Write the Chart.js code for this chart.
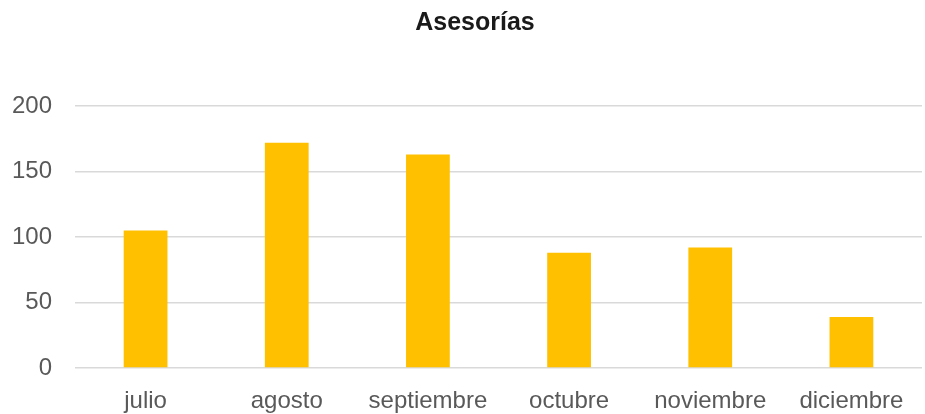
<!DOCTYPE html>
<html>
<head>
<meta charset="utf-8">
<script src="https://cdn.jsdelivr.net/npm/chart.js@4.4.1/dist/chart.umd.min.js"></script>
<style>
  html, body { margin: 0; padding: 0; background: #fff; }
  #wrap { width: 925px; height: 414px; }
</style>
</head>
<body>
<div id="wrap"><canvas id="myChart" width="925" height="414"></canvas></div>
<script>
const months = ['julio', 'agosto', 'septiembre', 'octubre', 'noviembre', 'diciembre'];
const asesorias = [105, 172, 163, 88, 92, 39];
const yTicks = [0, 50, 100, 150, 200];

const ctx = document.getElementById('myChart').getContext('2d');

// nudge the title a bit right, like the original which centres it over the plot
const shiftTitle = {
  id: 'shiftTitle',
  afterLayout(chart) {
    const t = chart.titleBlock;
    if (t) { t.left += 28; t.width -= 28; }
  }
};

new Chart(ctx, {
  type: 'bar',
  data: {
    labels: months,
    datasets: [{
      label: 'Asesorías',
      data: asesorias,
      backgroundColor: '#FFC000',
      borderWidth: 0
    }]
  },
  options: {
    responsive: false,
    animation: false,
    layout: { padding: { left: 0, right: 3, top: 0, bottom: 0 } },
    plugins: {
      legend: { display: false },
      tooltip: { enabled: false },
      title: {
        display: true,
        text: 'Asesorías',
        color: '#1a1a1a',
        font: { family: 'Arial, "Liberation Sans", sans-serif', size: 25, weight: 'bold' },
        padding: { top: 8, bottom: 68 }
      }
    },
    datasets: {
      bar: { barPercentage: 0.31, categoryPercentage: 1 }
    },
    scales: {
      x: {
        grid: { display: false },
        border: { display: false },
        ticks: {
          color: '#595959',
          padding: 11,
          maxRotation: 0,
          font: { family: 'Arial, "Liberation Sans", sans-serif', size: 24 }
        },
        afterFit: scale => { scale.height = 46; }
      },
      y: {
        min: 0,
        max: 200,
        afterBuildTicks: scale => { scale.ticks = yTicks.map(v => ({ value: v })); },
        grid: { color: '#d9d9d9', lineWidth: 1.5, drawTicks: false },
        border: { display: false },
        ticks: {
          color: '#595959',
          padding: 23,
          font: { family: 'Arial, "Liberation Sans", sans-serif', size: 24 }
        },
        afterFit: scale => { scale.width = 75; }
      }
    }
  },
  plugins: [shiftTitle]
});
</script>
</body>
</html>
